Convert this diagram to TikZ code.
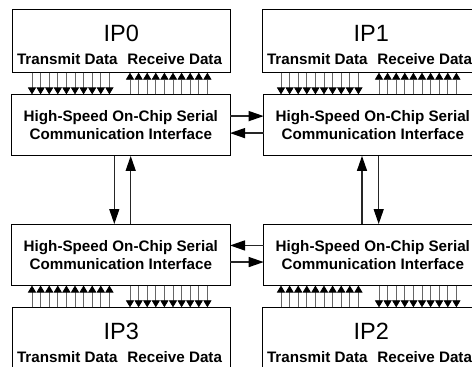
\documentclass[tikz,border=0pt]{standalone}
\usepackage{fontspec}
\setmainfont{Liberation Sans}
\usetikzlibrary{arrows.meta,calc}
\begin{document}
\begin{tikzpicture}[x=1pt,y=-1pt,
  box/.style={draw=black, line width=0.9pt, inner sep=0pt, outer sep=0pt, align=center,
    font=\fontsize{15.2}{17.6}\selectfont\bfseries},
  ipbox/.style={box, minimum width=217.3pt, minimum height=63.4pt},
  ifbox/.style={box, minimum width=218.3pt, minimum height=61.5pt},
  iplabel/.style={font=\fontsize{23.5}{23.5}\selectfont, anchor=base, inner sep=0pt},
  lbl/.style={font=\fontsize{15.2}{15.2}\selectfont\bfseries, anchor=base, inner sep=0pt},
  bus/.style={draw=black!60, line width=0.8pt, -{Triangle[length=7pt,width=8.2pt,color=black]}},
  link/.style={draw=black!85, line width=1.3pt, -{Triangle[length=15pt,width=10pt,color=black]}},
]
\useasboundingbox (0,0) rectangle (472,367);
\clip (0,0) rectangle (472,367);

% boxes
\node[ipbox] (ip0) at (121.35,41) {};
\node[ifbox] (if0) at (120.85,125.15) {High-Speed On-Chip Serial\\Communication Interface};
\node[ipbox] (ip1) at (371.35,41) {};
\node[ifbox] (if1) at (372.85,125.15) {High-Speed On-Chip Serial\\Communication Interface};
\node[ifbox] (if3) at (120.85,254.8) {High-Speed On-Chip Serial\\Communication Interface};
\node[ipbox] (ip3) at (121.35,339) {};
\node[ifbox] (if2) at (372.85,254.8) {High-Speed On-Chip Serial\\Communication Interface};
\node[ipbox] (ip2) at (371.35,339) {};

% labels in IP boxes
\foreach \b/\t in {ip0/IP0, ip1/IP1, ip3/IP3, ip2/IP2} {
  \node[iplabel] (\b-name) at ($(\b.north)+(0,32.4)$) {\t};
  \node[lbl] (\b-tx) at ($(\b.north west)+(54.6,54.7)$) {Transmit Data};
  \node[lbl] (\b-rx) at ($(\b.north west)+(162,54.7)$) {Receive Data};
}

% parallel buses
\foreach \i in {0,...,9} {
  \coordinate (a) at ($(ip0.south west)+(19.3+8.6*\i,0)$);
  \draw[bus] (a) -- (a |- if0.north);
  \coordinate (b) at ($(ip0.south west)+(117.3+8.6*\i,0)$);
  \draw[bus] (b |- if0.north) -- (b);
  \coordinate (c) at ($(ip1.south west)+(18.3+8.6*\i,0)$);
  \draw[bus] (c) -- (c |- if1.north);
  \coordinate (d) at ($(ip1.south west)+(116.3+8.6*\i,0)$);
  \draw[bus] (d |- if1.north) -- (d);
  \coordinate (e) at ($(ip3.north west)+(19.3+8.6*\i,0)$);
  \draw[bus] (e) -- (e |- if3.south);
  \coordinate (f) at ($(ip3.north west)+(117.3+8.6*\i,0)$);
  \draw[bus] (f |- if3.south) -- (f);
  \coordinate (g) at ($(ip2.north west)+(18.3+8.6*\i,0)$);
  \draw[bus] (g) -- (g |- if2.south);
  \coordinate (h) at ($(ip2.north west)+(116.3+8.6*\i,0)$);
  \draw[bus] (h |- if2.south) -- (h);
}

% serial links
\coordinate (r1) at ($(if0.north east)+(0,21.7)$);
\draw[link] (r1) -- (r1 -| if1.west);
\coordinate (r2) at ($(if1.north west)+(0,38.7)$);
\draw[link] (r2) -- (r2 -| if0.east);
\coordinate (r3) at ($(if2.north west)+(0,21.4)$);
\draw[link] (r3) -- (r3 -| if3.east);
\coordinate (r4) at ($(if3.north east)+(0,38)$);
\draw[link] (r4) -- (r4 -| if2.west);

\coordinate (v1) at ($(if0.south west)+(102.6,0)$);
\draw[link] (v1) -- (v1 |- if3.north);
\coordinate (v2) at ($(if3.north west)+(119,0)$);
\draw[link] (v2) -- (v2 |- if0.south);
\coordinate (v3) at ($(if2.north west)+(98.3,0)$);
\draw[link] (v3) -- (v3 |- if1.south);
\coordinate (v4) at ($(if1.south west)+(115,0)$);
\draw[link] (v4) -- (v4 |- if2.north);
\end{tikzpicture}
\end{document}
